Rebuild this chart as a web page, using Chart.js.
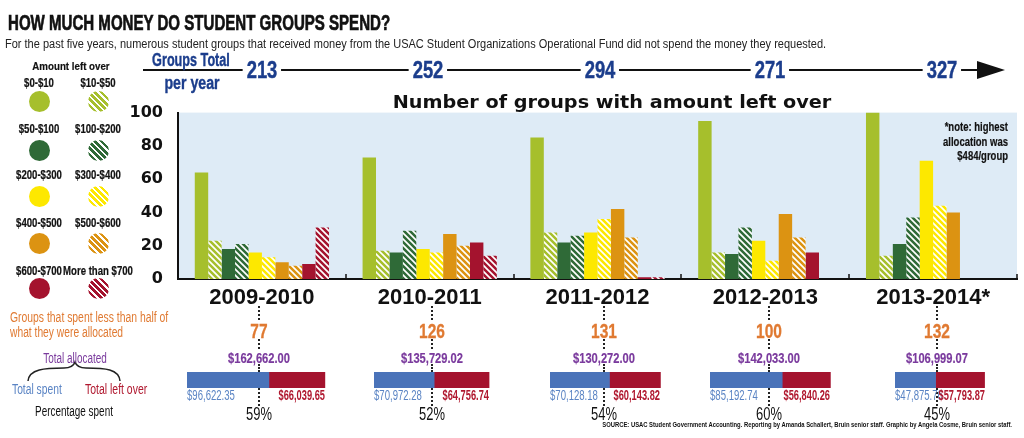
<!DOCTYPE html>
<html>
<head>
<meta charset="utf-8">
<script src="https://cdn.jsdelivr.net/npm/chart.js@4.4.0/dist/chart.umd.min.js"></script>
<style>
    body { margin: 0; width: 1024px; height: 438px; background: #fff; position: relative; overflow: hidden;
           font-family: "Liberation Sans", Arial, sans-serif; }
    .a { position: absolute; white-space: nowrap; line-height: 1; }
    .dot { position: absolute; width: 0; border-left: 2px dotted #222; }
    .circle { position: absolute; width: 21px; height: 21px; border-radius: 50%; }
    #mainWrap { position: absolute; left: 120px; top: 88px; width: 904px; height: 230px; }
    .splitWrap { position: absolute; top: 372px; height: 16px; }
</style>
</head>
<body>
<div id="mainWrap"><canvas id="groupsChart"></canvas></div>
<svg style="position:absolute;left:0;top:0" width="160" height="400">
    <path d="M28 381 C29 369, 45 368, 64 368 Q73 368 75 362 Q77 368 86 368 C105 368, 119 369, 120 381"
          stroke="#222" stroke-width="1.5" fill="none"/>
</svg>
<script>
// Valores
const years = ['2009-2010', '2010-2011', '2011-2012', '2012-2013', '2013-2014*'];
const groupsTotal = [213, 252, 294, 271, 327];

const rangeLabels = ['$0-$10', '$10-$50', '$50-$100', '$100-$200', '$200-$300',
                     '$300-$400', '$400-$500', '$500-$600', '$600-$700', 'More than $700'];
const left0to10 = [64, 73, 85, 95, 100];
const left10to50 = [23, 17, 28, 16, 14];
const left50to100 = [18, 16, 22, 15, 21];
const left100to200 = [21, 29, 26, 31, 37];
const left200to300 = [16, 18, 28, 23, 71];
const left300to400 = [13, 16, 36, 11, 44];
const left400to500 = [10, 27, 42, 39, 40];
const left500to600 = [8, 20, 25, 25, 0];
const left600to700 = [9, 22, 1, 16, 0];
const leftOver700 = [31, 14, 1, 0, 0];
const yTicks = [0, 20, 40, 60, 80, 100];

const spentLessThanHalf = [77, 126, 131, 100, 132];
const totalAllocated = [162662.00, 135729.02, 130272.00, 142033.00, 106999.07];
const totalSpent = [96622.35, 70972.28, 70128.18, 85192.74, 47875.76];
const totalLeftOver = [66039.65, 64756.74, 60143.82, 56840.26, 57793.87];
const percentSpent = [59, 52, 54, 60, 45];

// Cores
const green = '#a6bf2c', darkGreen = '#2f6a37', yellow = '#fde800', orange = '#dc9312', red = '#a4132e';
const rangeColors = [green, green, darkGreen, darkGreen, yellow, yellow, orange, orange, red, red];
const rangeHatched = [false, true, false, true, false, true, false, true, false, true];
const seriesValues = [left0to10, left10to50, left50to100, left100to200, left200to300,
                      left300to400, left400to500, left500to600, left600to700, leftOver700];

// Posições do layout (não são dados)
const columnX = [259, 432, 604, 769, 937];
const splitLeft = [187, 374, 550, 710, 895];
const dollarsPerPixel = 1180;
const splitMax = 170000;

function hatch(color) {
    const s = 6;
    const c = document.createElement('canvas');
    c.width = s; c.height = s;
    const g = c.getContext('2d');
    g.fillStyle = color;
    g.fillRect(0, 0, s, s);
    g.strokeStyle = '#fff';
    g.lineWidth = 1.7;
    g.beginPath();
    g.moveTo(0, 0); g.lineTo(s, s);
    g.moveTo(-s / 2, s / 2); g.lineTo(s / 2, s * 1.5);
    g.moveTo(s / 2, -s / 2); g.lineTo(s * 1.5, s / 2);
    g.stroke();
    return g.createPattern(c, 'repeat');
}

// texto posicionado; w = largura alvo (condensa com scaleX), sx = fator fixo
function label(text, x, y, style, align, fit) {
    const el = document.createElement('div');
    el.className = 'a';
    el.textContent = text;
    el.style.left = x + 'px';
    el.style.top = y + 'px';
    Object.assign(el.style, style || {});
    document.body.appendChild(el);
    let s = 1;
    if (fit && fit.w) s = fit.w / el.offsetWidth;
    if (fit && fit.sx) s = fit.sx;
    const tx = align === 'left' ? '0' : align === 'right' ? '-100%' : '-50%';
    el.style.transformOrigin = align === 'left' ? 'left center' : align === 'right' ? 'right center' : 'center center';
    el.style.transform = `translate(${tx},-50%) scaleX(${s})`;
    return el;
}

function dotted(x, y1, y2) {
    const d = document.createElement('div');
    d.className = 'dot';
    d.style.left = (x - 1) + 'px';
    d.style.top = y1 + 'px';
    d.style.height = (y2 - y1) + 'px';
    document.body.appendChild(d);
}

const money = v => '$' + v.toLocaleString('en-US', { minimumFractionDigits: 2, maximumFractionDigits: 2 });
const B = { fontWeight: 'bold' };
const heavy = w => ({ fontWeight: 'bold', webkitTextStroke: w + 'px currentColor' });

// Cabeçalho
label('HOW MUCH MONEY DO STUDENT GROUPS SPEND?', 8, 23, { ...heavy(0.7), fontSize: '22px', color: '#111' }, 'left', { w: 382 });
label('For the past five years, numerous student groups that received money from the USAC Student Organizations Operational Fund did not spend the money they requested.',
      5, 44, { fontSize: '12.5px', color: '#222' }, 'left', { w: 821 });

// Linha do tempo
const line = document.createElement('div');
Object.assign(line.style, { position: 'absolute', left: '143px', top: '69px', width: '840px', height: '2px', background: '#111' });
document.body.appendChild(line);
const head = document.createElement('div');
Object.assign(head.style, { position: 'absolute', left: '977px', top: '61px', width: 0, height: 0,
    borderTop: '9px solid transparent', borderBottom: '9px solid transparent', borderLeft: '28px solid #111' });
document.body.appendChild(head);
const navy = '#1b3d8c';
label('Groups Total', 191, 60, { ...heavy(0.4), fontSize: '18px', color: navy }, 'center', { w: 78 });
label('per year', 192, 83, { ...heavy(0.4), fontSize: '18px', color: navy }, 'center', { w: 55 });
const totalX = [262, 428, 600, 770, 942];
groupsTotal.forEach((n, i) => {
    label(String(n), totalX[i], 70, { ...heavy(0.4), fontSize: '23px', color: navy, background: '#fff', padding: '0 5px' }, 'center', { sx: 0.8 });
});

// Legenda
label('Amount left over', 71, 67, { ...heavy(0.2), fontSize: '11.5px', color: '#111' }, 'center', { w: 77 });
const legendRowsLabel = [83, 129, 175, 223, 271];
const legendRowsCircle = [101, 150, 196, 243, 288];
const legendColX = [39, 98];
rangeLabels.forEach((name, i) => {
    const row = Math.floor(i / 2), col = i % 2;
    label(name, legendColX[col], legendRowsLabel[row], { ...heavy(0.2), fontSize: '12px', color: '#111' }, 'center', { sx: 0.8 });
    const c = document.createElement('div');
    c.className = 'circle';
    c.style.left = (legendColX[col] - 10.5) + 'px';
    c.style.top = (legendRowsCircle[row] - 10.5) + 'px';
    c.style.background = rangeHatched[i]
        ? `repeating-linear-gradient(45deg, ${rangeColors[i]} 0 2.6px, #fff 2.6px 4.4px)`
        : rangeColors[i];
    document.body.appendChild(c);
});

// Gráfico principal
const plotBackground = {
    id: 'plotBackground',
    beforeDraw(chart) {
        const { ctx, chartArea: a } = chart;
        ctx.save();
        ctx.fillStyle = '#deebf6';
        ctx.fillRect(a.left, a.top, a.right - a.left, a.bottom - a.top);
        ctx.restore();
    }
};

const groupTicks = {
    id: 'groupTicks',
    afterDraw(chart) {
        const { ctx, chartArea: a } = chart;
        const x = chart.scales.x;
        const half = (x.getPixelForValue(1) - x.getPixelForValue(0)) / 2;
        ctx.save();
        ctx.strokeStyle = '#111';
        ctx.lineWidth = 1.5;
        for (let i = 0; i < years.length; i++) {
            const px = Math.round(x.getPixelForValue(i) + half);
            ctx.beginPath();
            ctx.moveTo(px, a.bottom - 5);
            ctx.lineTo(px, a.bottom);
            ctx.stroke();
        }
        ctx.restore();
    }
};

new Chart(document.getElementById('groupsChart'), {
    type: 'bar',
    data: {
        labels: years,
        datasets: seriesValues.map((vals, i) => ({
            label: rangeLabels[i],
            data: vals,
            backgroundColor: rangeHatched[i] ? hatch(rangeColors[i]) : rangeColors[i],
            borderWidth: 0,
            barPercentage: 1,
            categoryPercentage: 0.8
        }))
    },
    options: {
        responsive: true,
        maintainAspectRatio: false,
        animation: false,
        layout: { padding: { top: 8, right: 7, left: 0, bottom: 0 } },
        plugins: { legend: { display: false }, tooltip: { enabled: false } },
        scales: {
            x: {
                afterFit: s => { s.height = 39; },
                grid: { display: false, drawTicks: false },
                border: { display: true, color: '#111', width: 2 },
                ticks: { color: '#111', padding: 6, font: { family: '"Liberation Sans", sans-serif', size: 22, weight: 'bold' } }
            },
            y: {
                min: 0,
                max: 100,
                afterFit: s => { s.width = 58; },
                afterBuildTicks: s => { s.ticks = yTicks.map(v => ({ value: v })); },
                grid: { display: false, drawTicks: false },
                border: { display: true, color: '#111', width: 2 },
                ticks: { color: '#111', padding: 15, font: { family: '"DejaVu Sans", sans-serif', size: 16, weight: 'bold' } }
            }
        }
    },
    plugins: [plotBackground, groupTicks]
});

label('Number of groups with amount left over', 612, 102,
      { ...B, fontSize: '18px', color: '#111', fontFamily: '"DejaVu Sans", sans-serif' }, 'center', { w: 439 });

label('*note: highest', 1008, 127, { ...heavy(0.2), fontSize: '12.5px', color: '#111' }, 'right', { sx: 0.76 });
label('allocation was', 1008, 142, { ...heavy(0.2), fontSize: '12.5px', color: '#111' }, 'right', { sx: 0.76 });
label('$484/group', 1008, 156, { ...heavy(0.2), fontSize: '12.5px', color: '#111' }, 'right', { sx: 0.76 });

// Legenda inferior
const orangeText = '#e07a32', purple = '#7a3a9d', blueText = '#5a84c4', redText = '#b0182f';
label('Groups that spent less than half of', 10, 317, { fontSize: '14px', color: orangeText }, 'left', { w: 158 });
label('what they were allocated', 10, 332, { fontSize: '14px', color: orangeText }, 'left', { w: 113 });
label('Total allocated', 75, 358, { fontSize: '14px', color: purple }, 'center', { w: 64 });
label('Total spent', 12, 389, { fontSize: '14px', color: blueText }, 'left', { w: 50 });
label('Total left over', 85, 389, { fontSize: '14px', color: redText }, 'left', { w: 62 });
label('Percentage spent', 74, 411, { fontSize: '14px', color: '#111' }, 'center', { w: 78 });

// Coluna de cada ano
years.forEach((y, i) => {
    const cx = columnX[i];
    dotted(cx, 306, 320);
    label(String(spentLessThanHalf[i]), cx, 330, { ...heavy(0.3), fontSize: '21px', color: orangeText }, 'center', { sx: 0.74 });
    dotted(cx, 339, 349);
    label(money(totalAllocated[i]), cx, 358, { ...heavy(0.2), fontSize: '15.5px', color: purple }, 'center', { sx: 0.72 });
    dotted(cx, 364, 372);
    dotted(cx, 388, 406);
    label(percentSpent[i] + '%', cx, 414, { fontSize: '18px', color: '#111' }, 'center', { sx: 0.72 });

    const wrap = document.createElement('div');
    wrap.className = 'splitWrap';
    wrap.style.left = splitLeft[i] + 'px';
    wrap.style.width = (splitMax / dollarsPerPixel) + 'px';
    const cv = document.createElement('canvas');
    wrap.appendChild(cv);
    document.body.appendChild(wrap);

    const chart = new Chart(cv, {
        type: 'bar',
        data: {
            labels: [y],
            datasets: [
                { label: 'Total spent', data: [totalSpent[i]], backgroundColor: '#4a73b9', barPercentage: 1, categoryPercentage: 1 },
                { label: 'Total left over', data: [totalLeftOver[i]], backgroundColor: red, barPercentage: 1, categoryPercentage: 1 }
            ]
        },
        options: {
            indexAxis: 'y',
            responsive: true,
            maintainAspectRatio: false,
            animation: false,
            layout: { padding: 0 },
            plugins: { legend: { display: false }, tooltip: { enabled: false } },
            scales: {
                x: { stacked: true, min: 0, max: splitMax, display: false },
                y: { stacked: true, display: false }
            }
        }
    });
    const right = splitLeft[i] + chart.scales.x.getPixelForValue(totalSpent[i] + totalLeftOver[i]);
    label(money(totalSpent[i]), splitLeft[i], 395, { fontSize: '14.5px', color: blueText }, 'left', { sx: 0.66 });
    label(money(totalLeftOver[i]), right, 395, { ...B, fontSize: '14.5px', color: redText }, 'right', { sx: 0.64 });
});

label('SOURCE: USAC Student Government Accounting. Reporting by Amanda Schallert, Bruin senior staff. Graphic by Angela Cosme, Bruin senior staff.',
      1012, 425, { ...B, fontSize: '8px', color: '#111' }, 'right', { w: 410 });
</script>
</body>
</html>
